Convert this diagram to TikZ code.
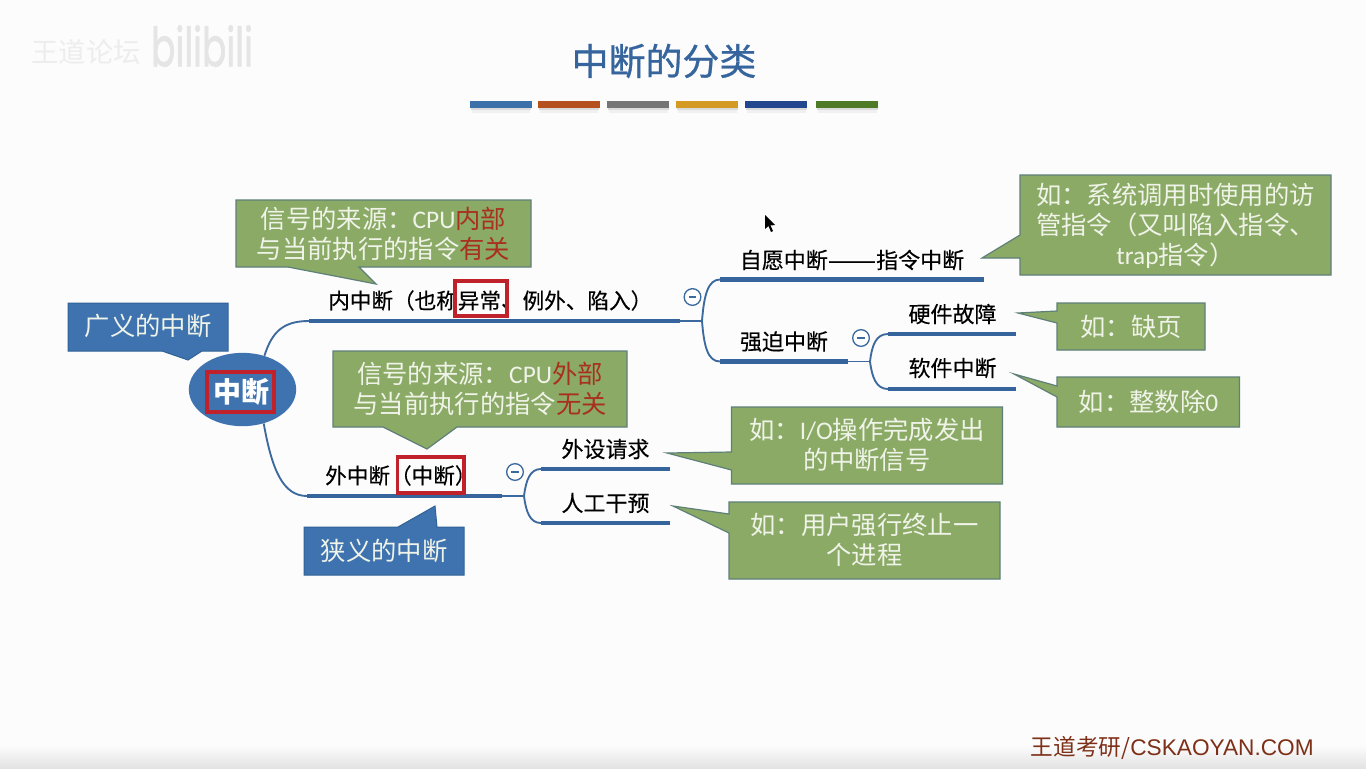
\documentclass[tikz,border=0pt]{standalone}
\usepackage{fontspec}
\usetikzlibrary{shapes.geometric}
\setmainfont{Noto Sans CJK SC}
\newfontfamily\labfont[FakeBold=0.3]{Noto Sans CJK SC}
\newfontfamily\titlefont[FakeBold=0.8]{Noto Sans CJK SC}
\newfontfamily\latinfont{Carlito}
\newfontfamily\footfont{Liberation Sans}
\newfontfamily\bilifont[FakeBold=1.5]{Poppins}
\definecolor{cgreen}{HTML}{8BAA66}
\definecolor{cgreenl}{HTML}{5E8078}
\definecolor{cblue}{HTML}{3E73AF}
\definecolor{cbluel}{HTML}{2F6295}
\definecolor{ctext}{HTML}{EFF3E8}
\definecolor{cred}{HTML}{A8301C}
\definecolor{cfoot}{HTML}{7E2F17}
\definecolor{rbox}{HTML}{C0222C}
\definecolor{linkc}{HTML}{3D6A9E}
\definecolor{barc}{HTML}{36659E}
\newcommand{\lat}[1]{{\latinfont #1}}
\newcommand{\rd}[1]{\textcolor{cred}{#1}}
\newcommand{\zcolon}{^^^^ff1a}
\newcommand{\zlp}{^^^^ff08}
\newcommand{\zrp}{^^^^ff09}
\tikzset{
  x=0.75pt,y=-0.75pt,
  greenshape/.style={fill=cgreen,draw=cgreenl,line width=0.9pt,line join=miter},
  blueshape/.style={fill=cblue,draw=cbluel,line width=0.75pt,line join=miter},
  calltext/.style={text=ctext,align=center,font=\fontsize{19}{22.5}\selectfont,inner sep=0pt},
  branchlabel/.style={text=black,font=\fontsize{16.5}{20}\selectfont\labfont,inner sep=0pt},
  sublabel/.style={text=black,font=\fontsize{16.2}{19}\selectfont\labfont,inner sep=0pt},
  thick bar/.style={draw=barc,line width=3.2pt},
  link/.style={draw=linkc,line width=1.4pt},
  collapse/.style={circle,draw=linkc,fill=white,line width=1pt,minimum size=12.5pt,inner sep=0pt},
  redbox/.style={draw=rbox,line width=2.5pt},
  decobar/.style={inner sep=0pt,minimum height=4.8pt,minimum width=46.5pt},
}
\newcommand{\minussign}[1]{\draw[linkc,line width=0.9pt] ([xshift=-2.8pt]#1.center) -- ([xshift=2.8pt]#1.center);}
\begin{document}
\begin{tikzpicture}
\useasboundingbox (0,0) rectangle (1366,768);
\fill[white!99!black] (0,0) rectangle (1366,768);
\shade[top color=white!99!black,bottom color=black!11] (0,745) rectangle (1366,768);

% watermark
\node[text=black!7,inner sep=0pt,font=\fontsize{20.5}{22}\selectfont] (wm) at (86,52) {王道论坛};
\node[text=black!10,inner sep=0pt,font=\fontsize{27}{28}\selectfont\bilifont,xscale=1,yscale=1.5] (bl) at (202,46) {bilibili};

% title
\node[text=barc,inner sep=0pt,font=\fontsize{27.7}{32}\selectfont\titlefont] (title) at (664,61) {中断的分类};

% title bars
\foreach \xa/\xb/\c/\n in {470/532/3B71A8/b1,538/600/B5501F/b2,607/670/757575/b3,676/739/D49A24/b4,745/808/23478F/b5,816/879/4E7A27/b6}{
  \definecolor{tmpc}{HTML}{\c}
  \fill[black!14] (\xa+1,107) rectangle (\xb-1,110);
  \fill[black!6] (\xa+2,110) rectangle (\xb-2,113);
  \node[decobar,fill=tmpc,anchor=north west] (\n) at (\xa,101) {};
}

% central topic
\node[ellipse,fill=cblue,minimum width=80.5pt,minimum height=55pt,inner sep=0pt] (c) at (242.5,389.5) {};
\node[text=white,inner sep=0pt,font=\fontsize{21}{24}\selectfont\bfseries] (ctext) at (241,392) {中断};
\draw[redbox] (207,372) rectangle (274,412);

% coordinates
\coordinate (inA) at (309,321);   \coordinate (inB) at (680,321);
\coordinate (exA) at (307,496);   \coordinate (exB) at (502,496);
\coordinate (inS) at (702,321);   \coordinate (fcS) at (870,361.5);
\coordinate (exS) at (524,496);
\coordinate (zyA) at (720,279.5); \coordinate (zyB) at (984,279.5);
\coordinate (qpA) at (720,361.5); \coordinate (qpB) at (848,361.5);
\coordinate (yjA) at (888,334);   \coordinate (yjB) at (1016,334);
\coordinate (rjA) at (888,389);   \coordinate (rjB) at (1016,389);
\coordinate (wsA) at (541,469);   \coordinate (wsB) at (670,469);
\coordinate (rgA) at (541,523);   \coordinate (rgB) at (670,523);

% curved links
\draw[link] (c.57) .. controls (272,332) and (283,321) .. (inA);
\draw[link] (c.-58) .. controls (272,470) and (283,496) .. (exA);
\draw[link] (inB) -- (inS);
\draw[link] (exB) -- (exS);
\draw[link] (qpB) -- (fcS);
\draw[link] (inS) .. controls (704,295) and (708,279.5) .. (zyA);
\draw[link] (inS) .. controls (704,347) and (708,361.5) .. (qpA);
\draw[link] (fcS) .. controls (872,345) and (876,334) .. (yjA);
\draw[link] (fcS) .. controls (872,377) and (876,389) .. (rjA);
\draw[link] (exS) .. controls (526,480) and (530,469) .. (wsA);
\draw[link] (exS) .. controls (526,512) and (530,523) .. (rgA);

% bars
\draw[thick bar] (inA) -- (inB);
\draw[thick bar] (exA) -- (exB);
\draw[thick bar] (zyA) -- (zyB);
\draw[thick bar] (qpA) -- (qpB);
\draw[thick bar] (yjA) -- (yjB);
\draw[thick bar] (rjA) -- (rjB);
\draw[thick bar] (wsA) -- (wsB);
\draw[thick bar] (rgA) -- (rgB);

% branch labels
\node[sublabel,anchor=west] (nei) at (328,300.5) {内中断\zlp 也称异常、例外、陷入\zrp};
\node[sublabel,anchor=west] (wai) at (325,475.5) {外中断\zlp 中断\zrp};
\node[branchlabel] (zy) at (852,260) {自愿中断\scalebox{1.31}[1]{——}指令中断};
\node[branchlabel] (qp) at (784,341.5) {强迫中断};
\node[branchlabel] (yj) at (952.5,314) {硬件故障};
\node[branchlabel] (rj) at (952.5,368) {软件中断};
\node[branchlabel] (ws) at (605.5,449) {外设请求};
\node[branchlabel] (rg) at (605.5,503) {人工干预};

% red boxes
\draw[redbox] (455,281) rectangle (507,316);
\draw[redbox] (397.5,457) rectangle (464,493);

% collapse marks
\node[collapse] (m1) at (692.5,297) {}; \minussign{m1}
\node[collapse] (m2) at (861,338) {};   \minussign{m2}
\node[collapse] (m3) at (515,472) {};   \minussign{m3}

% callouts
\draw[blueshape] (68,303) -- (228,303) -- (228,351) -- (202,351) -- (188,360) -- (162,351) -- (68,351) -- cycle;
\node[calltext] (k1) at (148,326) {广义的中断};

\draw[blueshape] (304,527) -- (398,527) -- (435,506) -- (437,527) -- (464,527) -- (464,575) -- (304,575) -- cycle;
\node[calltext] (k2) at (384,551) {狭义的中断};

\draw[greenshape] (236,200) -- (531,200) -- (531,267) -- (359,267) -- (376,284) -- (288,267) -- (236,267) -- cycle;
\node[calltext] (g1) at (383.5,233.5) {信号的来源\zcolon\lat{CPU}\rd{内部}\\与当前执行的指令\rd{有关}};

\draw[greenshape] (333,351) -- (627,351) -- (627,427) -- (457,427) -- (427,449) -- (383,427) -- (333,427) -- cycle;
\node[calltext] (g2) at (480,389) {信号的来源\zcolon\lat{CPU}\rd{外部}\\与当前执行的指令\rd{无关}};

\draw[greenshape] (1020,175) -- (1331,175) -- (1331,275) -- (1020,275) -- (1020,258) -- (982,258) -- (1020,235) -- cycle;
\node[calltext] (g3) at (1175.5,226) {如\zcolon 系统调用时使用的访\\管指令\zlp 又叫陷入指令、\\\lat{trap}指令\zrp};

\draw[greenshape] (1057,303) -- (1205,303) -- (1205,350) -- (1057,350) -- (1057,323) -- (1018,313) -- (1057,311) -- cycle;
\node[calltext] (g4) at (1131,326.5) {如\zcolon 缺页};

\draw[greenshape] (1057,377) -- (1239.5,377) -- (1239.5,427) -- (1057,427) -- (1057,397) -- (1014,374) -- (1057,386) -- cycle;
\node[calltext] (g5) at (1148.5,401.5) {如\zcolon 整数除\lat{0}};

\draw[greenshape] (731.5,407) -- (1002.5,407) -- (1002.5,484) -- (731.5,484) -- (731.5,470) -- (667,453) -- (731.5,452) -- cycle;
\node[calltext] (g6) at (867,445) {如\zcolon\lat{I/O}操作完成发出\\的中断信号};

\draw[greenshape] (729,502) -- (1000,502) -- (1000,579) -- (729,579) -- (729,533) -- (673,506) -- (729,514) -- cycle;
\node[calltext] (g7) at (864.5,540) {如\zcolon 用户强行终止一\\个进程};

% cursor
\fill[black] (765,215) -- (765,229) -- (768.5,226) -- (771,232) -- (773,231) -- (770.5,225.5) -- (775,225) -- cycle;

% footer
\node[text=cfoot,inner sep=0pt,anchor=east,font=\fontsize{17}{20}\selectfont] (foot) at (1314,748) {王道考研/{\footfont CSKAOYAN.COM}};
\end{tikzpicture}
\end{document}
